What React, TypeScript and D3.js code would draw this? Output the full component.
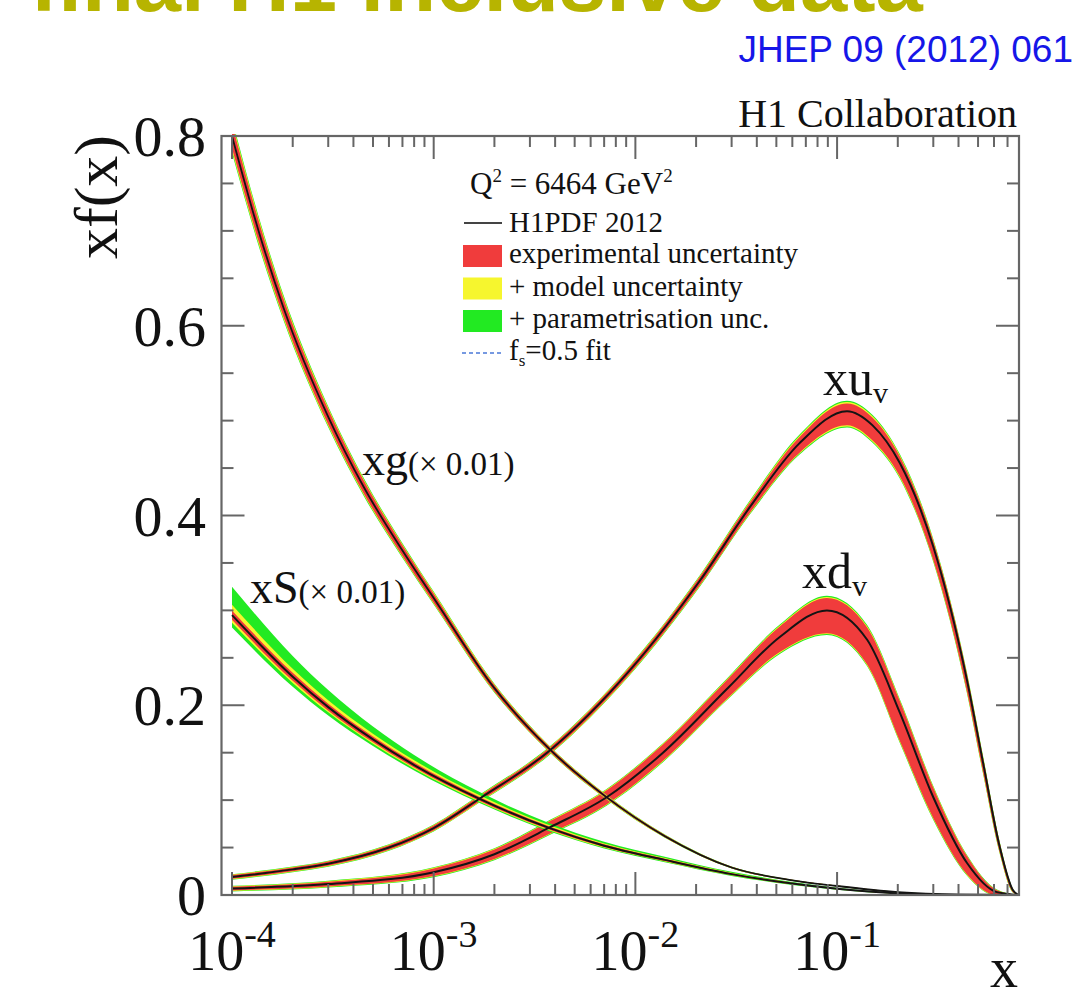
import React from 'react';
import * as d3 from 'd3';

const W = 1081;
const H = 1001;

// axis domains
const X_DOMAIN: [number, number] = [8.87e-5, 0.798];
const Y_DOMAIN: [number, number] = [0, 0.8];
const xMajorTicks = [1e-4, 1e-3, 1e-2, 1e-1];
const xTickExponents = ['-4', '-3', '-2', '-1'];
const yMajorTicks = [0, 0.2, 0.4, 0.6, 0.8];
const yTickLabels = ['0', '0.2', '0.4', '0.6', '0.8'];
const yMinorTicks = [0.05, 0.1, 0.15, 0.25, 0.3, 0.35, 0.45, 0.5, 0.55, 0.65, 0.7, 0.75];

// xg (x 0.01)
const xgX = [1e-4, 1.35e-4, 1.8e-4, 3e-4, 4.5e-4, 7e-4, 1e-3, 2e-3, 3.7e-3, 7e-3, 1.4e-2, 3e-2, 6e-2, 0.1, 0.2, 0.4, 0.798];
const xgV = [0.8, 0.701, 0.619, 0.504, 0.43, 0.363, 0.313, 0.218, 0.155, 0.105, 0.062, 0.029, 0.0155, 0.0095, 0.003, 0.0005, 0];
const xgExp = [0.013, 0.011, 0.0095, 0.008, 0.0068, 0.0056, 0.0049, 0.0034, 0.0025, 0.0018, 0.0012, 0.0007, 0.0005, 0.0004, 0.0002, 0.0001, 0];
const xgMod = [0.0155, 0.0135, 0.0115, 0.0097, 0.0082, 0.0068, 0.006, 0.0041, 0.003, 0.0022, 0.0015, 0.0009, 0.0006, 0.0005, 0.0002, 0.0001, 0];
const xgPar = [0.018, 0.0155, 0.0133, 0.011, 0.0094, 0.0078, 0.0068, 0.0047, 0.0034, 0.0025, 0.0017, 0.001, 0.0007, 0.0005, 0.0003, 0.0001, 0];

// xS (x 0.01)
const xsX = [1e-4, 2e-4, 3e-4, 5e-4, 8e-4, 1.7e-3, 3.7e-3, 7e-3, 1.4e-2, 3e-2, 6e-2, 0.1, 0.2, 0.4, 0.798];
const xsV = [0.295, 0.23, 0.198, 0.164, 0.137, 0.101, 0.071, 0.052, 0.037, 0.022, 0.012, 0.0065, 0.0017, 0.0002, 0];
const xsExp = [0.005, 0.0042, 0.0037, 0.0031, 0.0027, 0.0021, 0.0017, 0.0014, 0.0011, 0.0008, 0.0006, 0.0004, 0.0002, 0.0001, 0];
const xsModHi = [0.011, 0.0085, 0.0072, 0.006, 0.005, 0.0038, 0.003, 0.0024, 0.0019, 0.0014, 0.001, 0.0007, 0.0003, 0.0001, 0];
const xsModLo = [0.008, 0.0065, 0.0055, 0.0045, 0.0038, 0.003, 0.0024, 0.002, 0.0016, 0.0012, 0.0008, 0.0006, 0.0003, 0.0001, 0];
const xsParHi = [0.03, 0.022, 0.018, 0.0135, 0.0105, 0.0072, 0.0052, 0.0042, 0.0034, 0.0025, 0.0018, 0.0012, 0.0005, 0.0001, 0];
const xsParLo = [0.013, 0.0105, 0.0088, 0.007, 0.0058, 0.0044, 0.0035, 0.003, 0.0025, 0.0019, 0.0014, 0.001, 0.0004, 0.0001, 0];

// xu_v
const xuX = [1e-4, 2e-4, 3e-4, 6e-4, 1e-3, 1.7e-3, 3.7e-3, 9.4e-3, 2.1e-2, 3.7e-2, 6.5e-2, 0.112, 0.15, 0.205, 0.3, 0.44, 0.53, 0.64, 0.745, 0.798];
const xuV = [0.019, 0.027, 0.033, 0.05, 0.0706, 0.102, 0.151, 0.237, 0.332, 0.409, 0.476, 0.51, 0.495, 0.455, 0.367, 0.227, 0.139, 0.051, 0.005, 0];
const xuExpHi = [0.002, 0.002, 0.0022, 0.0024, 0.0026, 0.003, 0.0032, 0.0036, 0.0042, 0.005, 0.0065, 0.008, 0.008, 0.007, 0.006, 0.006, 0.005, 0.004, 0.001, 0];
const xuExpLo = [0.002, 0.002, 0.0022, 0.0024, 0.0026, 0.003, 0.0032, 0.0038, 0.0048, 0.006, 0.01, 0.015, 0.016, 0.014, 0.014, 0.012, 0.01, 0.006, 0.002, 0];
const xuModHi = [0.0025, 0.0025, 0.0027, 0.0029, 0.0031, 0.0036, 0.0038, 0.0043, 0.005, 0.006, 0.0077, 0.0095, 0.0095, 0.0083, 0.0072, 0.007, 0.006, 0.0047, 0.0013, 0];
const xuModLo = [0.0025, 0.0025, 0.0027, 0.0029, 0.0031, 0.0036, 0.0038, 0.0045, 0.0056, 0.007, 0.011, 0.0162, 0.0172, 0.0152, 0.015, 0.013, 0.011, 0.0067, 0.0023, 0];
const xuParHi = [0.003, 0.003, 0.0032, 0.0034, 0.0036, 0.0041, 0.0044, 0.005, 0.0058, 0.007, 0.009, 0.011, 0.011, 0.0096, 0.0083, 0.008, 0.007, 0.0054, 0.0016, 0];
const xuParLo = [0.003, 0.003, 0.0032, 0.0034, 0.0036, 0.0041, 0.0044, 0.0052, 0.0063, 0.0078, 0.012, 0.0172, 0.0182, 0.0162, 0.016, 0.0138, 0.0118, 0.0073, 0.0026, 0];

// xd_v
const xdX = [1e-4, 3e-4, 1e-3, 2e-3, 3.8e-3, 7.2e-3, 1.37e-2, 2.9e-2, 5.2e-2, 8.9e-2, 0.141, 0.205, 0.3, 0.44, 0.62, 0.798];
const xdV = [0.0068, 0.0115, 0.024, 0.043, 0.0717, 0.103, 0.15, 0.219, 0.272, 0.3, 0.269, 0.192, 0.103, 0.034, 0.003, 0];
const xdExpHi = [0.002, 0.0025, 0.004, 0.005, 0.0065, 0.0075, 0.0085, 0.0095, 0.011, 0.013, 0.013, 0.012, 0.01, 0.007, 0.002, 0];
const xdExpLo = [0.002, 0.0025, 0.004, 0.005, 0.0065, 0.0075, 0.0085, 0.0105, 0.016, 0.024, 0.026, 0.03, 0.022, 0.012, 0.003, 0];
const xdModHi = [0.0025, 0.003, 0.0046, 0.0057, 0.0072, 0.0082, 0.0093, 0.0103, 0.012, 0.0142, 0.0142, 0.013, 0.011, 0.0077, 0.0024, 0];
const xdModLo = [0.0025, 0.003, 0.0046, 0.0057, 0.0072, 0.0082, 0.0093, 0.0113, 0.017, 0.025, 0.027, 0.031, 0.023, 0.0128, 0.0034, 0];
const xdParHi = [0.003, 0.0035, 0.0052, 0.0063, 0.0078, 0.0088, 0.01, 0.0111, 0.013, 0.0155, 0.0155, 0.014, 0.012, 0.0085, 0.0028, 0];
const xdParLo = [0.003, 0.0035, 0.0052, 0.0063, 0.0078, 0.0088, 0.01, 0.012, 0.018, 0.026, 0.028, 0.032, 0.024, 0.0135, 0.0038, 0];

const legendItems = ['experimental uncertainty', '+ model uncertainty', '+ parametrisation unc.'];

const RED = '#f03c3c';
const YELLOW = '#f6f62e';
const GREEN = '#22ea22';
const AXIS = '#666';
const SERIF = '"Liberation Serif", "Times New Roman", Times, serif';
const SANS = '"Liberation Sans", Arial, Helvetica, sans-serif';

const PLOT = { left: 221.5, right: 1019, top: 136, bottom: 895 };

type Curve = {
  X: number[]; V: number[];
  expHi: number[]; expLo: number[];
  modHi: number[]; modLo: number[];
  parHi: number[]; parLo: number[];
};

const curves: Curve[] = [
  { X: xuX, V: xuV, expHi: xuExpHi, expLo: xuExpLo, modHi: xuModHi, modLo: xuModLo, parHi: xuParHi, parLo: xuParLo },
  { X: xdX, V: xdV, expHi: xdExpHi, expLo: xdExpLo, modHi: xdModHi, modLo: xdModLo, parHi: xdParHi, parLo: xdParLo },
  { X: xsX, V: xsV, expHi: xsExp, expLo: xsExp, modHi: xsModHi, modLo: xsModLo, parHi: xsParHi, parLo: xsParLo },
  { X: xgX, V: xgV, expHi: xgExp, expLo: xgExp, modHi: xgMod, modLo: xgMod, parHi: xgPar, parLo: xgPar },
];

export default function App() {
  const xs = d3.scaleLog().domain(X_DOMAIN).range([PLOT.left, PLOT.right]);
  const ys = d3.scaleLinear().domain(Y_DOMAIN).range([PLOT.bottom, PLOT.top]);

  const xMinor: number[] = [];
  for (let e = -4; e <= -1; e++) {
    for (let k = 2; k <= 9; k++) {
      const v = k * Math.pow(10, e);
      if (v < X_DOMAIN[1]) xMinor.push(v);
    }
  }

  const band = (c: Curve, hi: number[], lo: number[]) =>
    d3.area<number>()
      .x((i) => xs(c.X[i]))
      .y0((i) => ys(c.V[i] - lo[i]))
      .y1((i) => ys(c.V[i] + hi[i]))
      .curve(d3.curveMonotoneX)(d3.range(c.X.length)) || '';

  const line = (c: Curve) =>
    d3.line<number>()
      .x((i) => xs(c.X[i]))
      .y((i) => ys(c.V[i]))
      .curve(d3.curveMonotoneX)(d3.range(c.X.length)) || '';

  const majorLen = 23;
  const minorLen = 11;

  return (
    <svg width={W} height={H} style={{ position: 'absolute', left: 0, top: 0, background: '#fff' }}>
      <defs>
        <clipPath id="plotclip">
          <rect x={PLOT.left} y={PLOT.top - 2} width={PLOT.right - PLOT.left} height={PLOT.bottom - PLOT.top + 2} />
        </clipPath>
      </defs>

      {/* header */}
      <text x={30} y={11} fontFamily={SANS} fontWeight="bold" fontSize={85} fill="#b7b400">final H1 inclusive data</text>
      <text x={1073} y={62} fontFamily={SANS} fontSize={37} fill="#1616e8" textAnchor="end">JHEP 09 (2012) 061</text>
      <text x={1017} y={127} fontFamily={SERIF} fontSize={40} fill="#111" textAnchor="end">H1 Collaboration</text>

      {/* bands and lines */}
      <g clipPath="url(#plotclip)">
        {curves.map((c, i) => (
          <g key={'b' + i}>
            <path d={band(c, c.parHi, c.parLo)} fill={GREEN} />
            <path d={band(c, c.modHi, c.modLo)} fill={YELLOW} />
            <path d={band(c, c.expHi, c.expLo)} fill={RED} />
          </g>
        ))}
        {curves.map((c, i) => (
          <path key={'l' + i} d={line(c)} fill="none" stroke="#141414" strokeWidth={i === 3 ? 1.8 : 2} />
        ))}
      </g>

      {/* frame */}
      <rect x={PLOT.left} y={PLOT.top} width={PLOT.right - PLOT.left} height={PLOT.bottom - PLOT.top} fill="none" stroke={AXIS} strokeWidth={2.2} />

      {/* ticks on all four sides */}
      <g stroke={AXIS} strokeWidth={2}>
        {xMajorTicks.map((t) => (
          <g key={'xm' + t}>
            <line x1={xs(t)} x2={xs(t)} y1={PLOT.bottom} y2={PLOT.bottom - majorLen} />
            <line x1={xs(t)} x2={xs(t)} y1={PLOT.top} y2={PLOT.top + majorLen} />
          </g>
        ))}
        {xMinor.map((t) => (
          <g key={'xn' + t}>
            <line x1={xs(t)} x2={xs(t)} y1={PLOT.bottom} y2={PLOT.bottom - minorLen} />
            <line x1={xs(t)} x2={xs(t)} y1={PLOT.top} y2={PLOT.top + minorLen} />
          </g>
        ))}
        {yMajorTicks.map((t) => (
          <g key={'ym' + t}>
            <line x1={PLOT.left} x2={PLOT.left + majorLen} y1={ys(t)} y2={ys(t)} />
            <line x1={PLOT.right} x2={PLOT.right - majorLen} y1={ys(t)} y2={ys(t)} />
          </g>
        ))}
        {yMinorTicks.map((t) => (
          <g key={'yn' + t}>
            <line x1={PLOT.left} x2={PLOT.left + 12} y1={ys(t)} y2={ys(t)} />
            <line x1={PLOT.right} x2={PLOT.right - 12} y1={ys(t)} y2={ys(t)} />
          </g>
        ))}
      </g>

      {/* tick labels */}
      <g fontFamily={SERIF} fill="#111">
        {yMajorTicks.map((t, i) => (
          <text key={'yl' + t} x={206} y={ys(t) + 20} fontSize={58} textAnchor="end">{yTickLabels[i]}</text>
        ))}
        {xMajorTicks.map((t, i) => (
          <text key={'xl' + t} x={xs(t)} y={970} fontSize={56} textAnchor="middle">
            10<tspan fontSize={38} dy={-23}>{xTickExponents[i]}</tspan>
          </text>
        ))}
        <text x={1018} y={987} fontSize={56} textAnchor="end">x</text>
        <text transform="translate(117,197) rotate(-90)" fontSize={62} textAnchor="middle">xf(x)</text>
      </g>

      {/* curve labels */}
      <g fontFamily={SERIF} fill="#111">
        <text x={362} y={475} fontSize={46}>xg<tspan fontSize={33}>(× 0.01)</tspan></text>
        <text x={250} y={603} fontSize={46}>xS<tspan fontSize={33}>(× 0.01)</tspan></text>
        <text x={823} y={395} fontSize={50}>xu<tspan fontSize={30} dy={8}>v</tspan></text>
        <text x={802} y={588} fontSize={50}>xd<tspan fontSize={30} dy={8}>v</tspan></text>
      </g>

      {/* legend */}
      <g fontFamily={SERIF} fill="#111">
        <text x={470} y={194} fontSize={31}>
          Q<tspan fontSize={19} dy={-12}>2</tspan><tspan dy={12}> = 6464 GeV</tspan><tspan fontSize={19} dy={-12}>2</tspan>
        </text>
        <line x1={464} x2={502} y1={223} y2={223} stroke="#444" strokeWidth={2} />
        <text x={509} y={232} fontSize={29}>H1PDF 2012</text>
        {legendItems.map((label, i) => (
          <g key={label}>
            <rect x={463} y={245 + i * 32.5} width={39} height={22} fill={[RED, YELLOW, GREEN][i]} />
            <text x={509} y={263 + i * 32.5} fontSize={29}>{label}</text>
          </g>
        ))}
        <line x1={462} x2={502} y1={353} y2={353} stroke="#4a78d8" strokeWidth={1.6} strokeDasharray="4,3" />
        <text x={509} y={360} fontSize={29}>
          f<tspan fontSize={17} dy={6}>s</tspan><tspan dy={-6}>=0.5 fit</tspan>
        </text>
      </g>
    </svg>
  );
}
